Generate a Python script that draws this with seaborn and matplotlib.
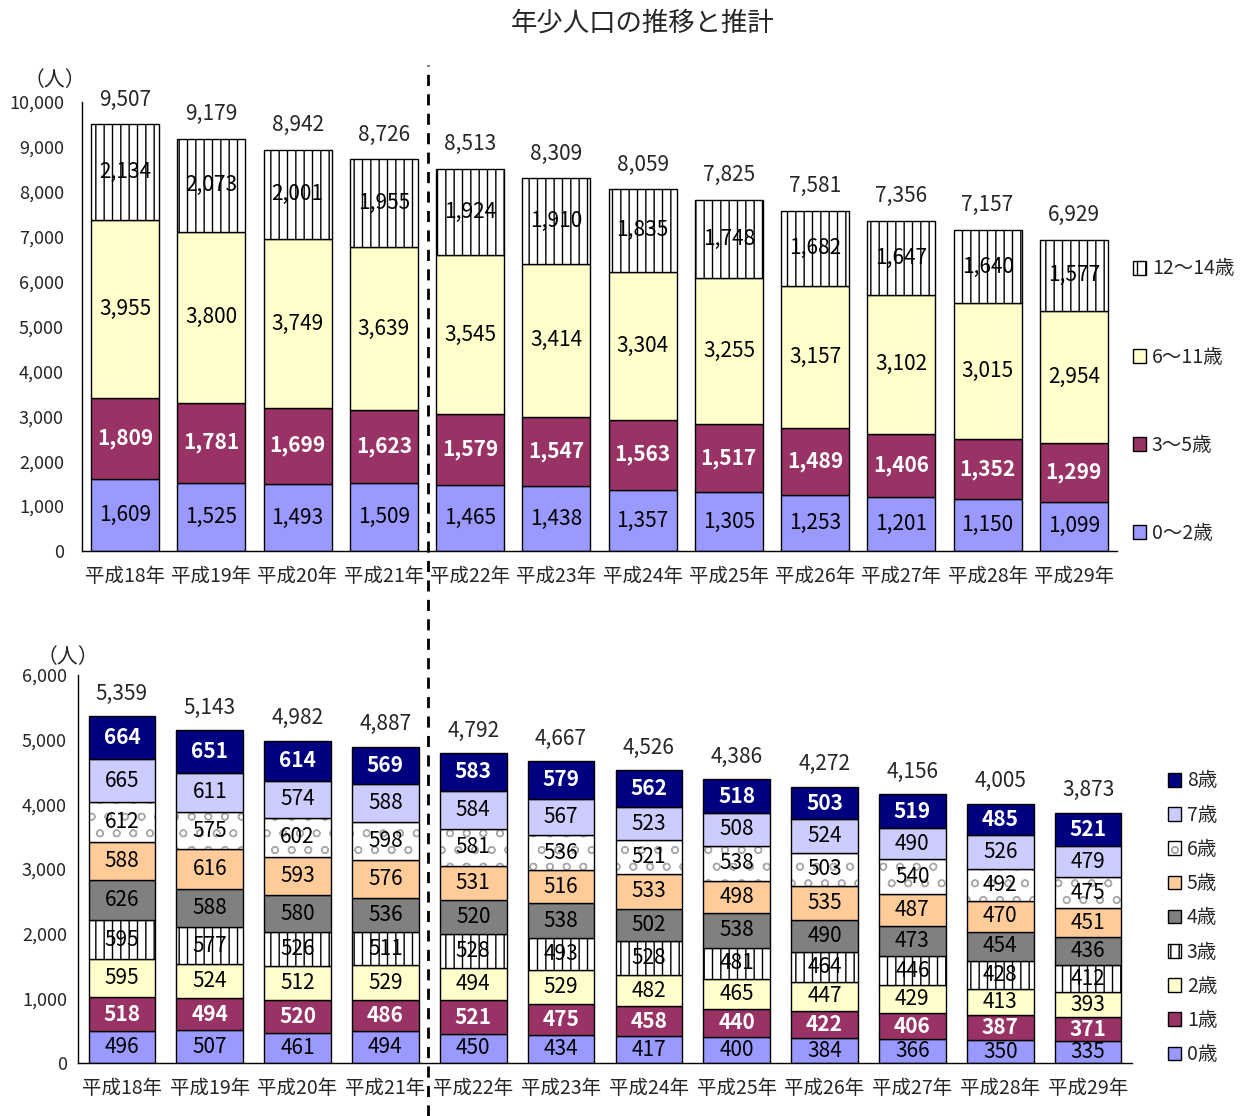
import numpy as np
import matplotlib
matplotlib.use("Agg")
import matplotlib.pyplot as plt
import seaborn as sns
from matplotlib.lines import Line2D
from matplotlib.patches import Patch

sns.set_style("white")
plt.rcParams["font.family"] = ["Noto Sans CJK JP", "DejaVu Sans"]
plt.rcParams["hatch.linewidth"] = 1.0

years = ["平成18年", "平成19年", "平成20年", "平成21年", "平成22年", "平成23年",
         "平成24年", "平成25年", "平成26年", "平成27年", "平成28年", "平成29年"]

# top chart: age groups
top_labels = ["0～2歳", "3～5歳", "6～11歳", "12～14歳"]
age_0_2 = [1609, 1525, 1493, 1509, 1465, 1438, 1357, 1305, 1253, 1201, 1150, 1099]
age_3_5 = [1809, 1781, 1699, 1623, 1579, 1547, 1563, 1517, 1489, 1406, 1352, 1299]
age_6_11 = [3955, 3800, 3749, 3639, 3545, 3414, 3304, 3255, 3157, 3102, 3015, 2954]
age_12_14 = [2134, 2073, 2001, 1955, 1924, 1910, 1835, 1748, 1682, 1647, 1640, 1577]

# bottom chart: single years
bottom_labels = ["0歳", "1歳", "2歳", "3歳", "4歳", "5歳", "6歳", "7歳", "8歳"]
age0 = [496, 507, 461, 494, 450, 434, 417, 400, 384, 366, 350, 335]
age1 = [518, 494, 520, 486, 521, 475, 458, 440, 422, 406, 387, 371]
age2 = [595, 524, 512, 529, 494, 529, 482, 465, 447, 429, 413, 393]
age3 = [595, 577, 526, 511, 528, 493, 528, 481, 464, 446, 428, 412]
age4 = [626, 588, 580, 536, 520, 538, 502, 538, 490, 473, 454, 436]
age5 = [588, 616, 593, 576, 531, 516, 533, 498, 535, 487, 470, 451]
age6 = [612, 575, 602, 598, 581, 536, 521, 538, 503, 540, 492, 475]
age7 = [665, 611, 574, 588, 584, 567, 523, 508, 524, 490, 526, 479]
age8 = [664, 651, 614, 569, 583, 579, 562, 518, 503, 519, 485, 521]

top_series = [age_0_2, age_3_5, age_6_11, age_12_14]
top_colors = ["#9999FF", "#993366", "#FFFFCC", "#FFFFFF"]
top_hatch = [None, None, None, "||"]
top_white = [False, True, False, False]

bot_series = [age0, age1, age2, age3, age4, age5, age6, age7, age8]
bot_colors = ["#9999FF", "#993366", "#FFFFCC", "#FFFFFF", "#808080",
              "#FFCC99", "#FFFFFF", "#CCCCFF", "#000080"]
bot_hatch = [None, None, None, "||", None, None, "o", None, None]
bot_white = [False, True, False, False, False, False, False, False, True]

SPECKLE = "#AAAAAA"


def stacked(ax, series, colors, hatches, whites, width, fs, ymax, ystep, ypad):
    cum = np.zeros(len(years))
    for vals, col, hat, wh in zip(series, colors, hatches, whites):
        vals = np.array(vals)
        if hat == "o":
            # grey speckle pattern, then black outline on top
            sns.barplot(x=years, y=vals, bottom=cum, color="white", saturation=1,
                        width=width, edgecolor=SPECKLE, linewidth=0, hatch=hat,
                        errorbar=None, ax=ax)
            sns.barplot(x=years, y=vals, bottom=cum, color="black", fill=False,
                        width=width, linewidth=1, errorbar=None, ax=ax)
        else:
            sns.barplot(x=years, y=vals, bottom=cum, color=col, saturation=1,
                        width=width, edgecolor="black", linewidth=1, hatch=hat,
                        errorbar=None, ax=ax)
        for i, v in enumerate(vals):
            ax.text(i, cum[i] + v / 2, f"{v:,}", ha="center", va="center",
                    fontsize=fs, color="white" if wh else "black",
                    fontweight="bold" if wh else "normal")
        cum += vals
    for i, t in enumerate(cum):
        ax.text(i, t + ymax * 0.03, f"{int(t):,}", ha="center", va="bottom",
                fontsize=15)
    ax.set_xlim(-0.5, len(years) - 0.5)
    ax.set_ylim(0, ymax)
    ax.set_yticks(np.arange(0, ymax + 1, ystep))
    ax.set_yticklabels([f"{int(v):,}" for v in np.arange(0, ymax + 1, ystep)], fontsize=13)
    ax.set_xticks(np.arange(-0.5, len(years), 1), minor=True)
    ax.tick_params(axis="x", which="major", length=0, labelsize=14, pad=11)
    ax.tick_params(axis="x", which="minor", length=5, width=1, direction="out")
    ax.tick_params(axis="y", length=5, width=1, direction="out", pad=ypad)
    ax.set_xlabel("")
    ax.set_ylabel("")
    sns.despine(ax=ax)
    for s in ["left", "bottom"]:
        ax.spines[s].set_color("black")
        ax.spines[s].set_linewidth(1)


fig = plt.figure(figsize=(12.43, 11.16), dpi=100)
ax1 = fig.add_axes([82 / 1243, 565 / 1116, 1035 / 1243, 449 / 1116])
ax2 = fig.add_axes([78 / 1243, 53 / 1116, 1054 / 1243, 388 / 1116])

stacked(ax1, top_series, top_colors, top_hatch, top_white, 0.79, 15, 10000, 1000, 8)
stacked(ax2, bot_series, bot_colors, bot_hatch, bot_white, 0.76, 15, 6000, 1000, 3)

fig.text(0.517, 0.979, "年少人口の推移と推計", ha="center", va="center", fontsize=19)
fig.text(55 / 1243, 1 - 80 / 1116, "（人）", ha="center", va="center", fontsize=15)
fig.text(68 / 1243, 1 - 657 / 1116, "（人）", ha="center", va="center", fontsize=15)

# legends
h1 = [Patch(facecolor=c, edgecolor="black", hatch=h, linewidth=1)
      for c, h in zip(top_colors, top_hatch)]
fig.legend(h1[::-1], top_labels[::-1], loc="upper left",
           bbox_to_anchor=(1115 / 1243, 1 - 241 / 1116), frameon=False,
           fontsize=14, handlelength=0.7, handleheight=0.7, handletextpad=0.3,
           labelspacing=3.45)

h2 = []
for c, h in zip(bot_colors, bot_hatch):
    if h == "o":
        h2.append((Patch(facecolor="white", edgecolor=SPECKLE, hatch=h, linewidth=0),
                   Patch(facecolor="none", edgecolor="black", linewidth=1)))
    else:
        h2.append(Patch(facecolor=c, edgecolor="black", hatch=h, linewidth=1))
fig.legend(h2[::-1], bottom_labels[::-1], loc="upper left",
           bbox_to_anchor=(1150 / 1243, 1 - 753 / 1116), frameon=False,
           fontsize=14, handlelength=0.7, handleheight=0.7, handletextpad=0.3,
           labelspacing=0.68)

# dashed separator between actual and projection
fig.add_artist(Line2D([428 / 1243, 428 / 1243], [0, 1 - 65 / 1116],
                      transform=fig.transFigure, color="black", linewidth=2,
                      linestyle=(0, (4, 3))))

fig.savefig("out.png", dpi=100)
